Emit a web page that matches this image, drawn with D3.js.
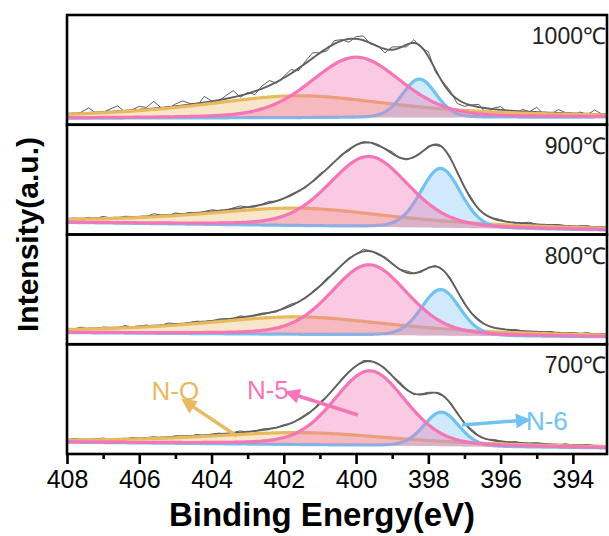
<!DOCTYPE html>
<html>
<head>
<meta charset="utf-8">
<script src="https://cdn.jsdelivr.net/npm/d3@7"></script>
<style>
body { margin: 0; background: #fff; }
svg { display: block; font-family: Arial, "Liberation Sans", sans-serif; }
</style>
</head>
<body>
<div id="chart"></div>
<script>
const width = 609, height = 536;
const plotLeft = 67, plotRight = 607, plotTop = 15, plotBottom = 454;

// panels, top to bottom
const temps = ["1000", "900", "800", "700"];
// background (% of panel height) at 408 eV and at 393 eV
const baseHigh = [6, 11, 10.6, 10.8];
const baseLow = [7, 4, 6.7, 5.5];
// N-Q component
const nqCenter = [401.6, 401.6, 401.6, 401.5];
const nqFwhm = [6.5, 6.5, 6.5, 6.5];
const nqHeight = [20, 16, 16, 11];
// N-5 component
const n5Center = [400.0, 399.65, 399.64, 399.62];
const n5Fwhm = [2.95, 2.6, 2.5, 2.35];
const n5Height = [55, 64, 64, 68];
// N-6 component
const n6Center = [398.25, 397.66, 397.66, 397.64];
const n6Fwhm = [1.1, 1.3, 1.25, 1.15];
const n6Height = [35, 54, 42, 31];

// raw data minus fit, every 0.2 eV from 408 eV
const resid1000 = [0.5,-1,1,4.5,-0.5,0,2.5,5,-1,0.5, 3,1.5,6.5,0,-1.5,2,4,1,-2,5.5,
  0.5,-1,3,6,-1.5,1,-3,2.5,4.5,-1, 1.5,3.5,-2,2,5,0,-2.5,3,1,-3, 2,4,-1,0.5,-3.5,2.5,1,-2,3,-1,
  4.5,-2,1,2,-4,-3,0.5,2.5,-5,1, 3,-1.5,-4,2,0,4.5,-2,-1,3,0.5, -3,1.5,-1,3.5,0,-2];
const resid900 = [0,0.5,-0.5,1,0,1.5,0,-0.5,1,0.5, -1,0,2,0.5,-0.5,1.5,0,1,-1,0.5,
  1.5,0,-0.5,1,2,0,-1,0.5,1.5,-0.5, 0,1,0.5,-1,0.5,1.5,-0.5,0,1,-1.5, 0.5,1,0,-1,0.5,1.5,-0.5,-1,0.5,0,
  1,-1,0.5,1,-0.5,0,1.5,-1,0,0.5, 1,0,-0.5,0.5,1.5,0,-0.5,0.5,1,0, -0.5,0.5,1,0,0.5,0];
const resid800 = [0.5,0,1.5,-0.5,0,1,0.5,-0.5,1.5,0, 0.5,1,-0.5,0,1.5,0.5,-1,0.5,1,0,
  -0.5,1,0.5,0,1.5,-0.5,0.5,1,0,-1, 1,1.5,0,-0.5,1,0.5,1.5,-1,0.5,1, 0,2,0.5,-1,1,0.5,-0.5,1.5,0,-1,
  0.5,1,-0.5,1.5,0,-1,0.5,1,0,-0.5, 0.5,0,1,0,-0.5,0.5,0,1,-0.5,0, 0.5,0,1,0,0.5,0];
const resid700 = [0,1,0,-0.5,0.5,1,0,0.5,-0.5,1, 0,0.5,1,-0.5,0,1,0.5,0,1,-0.5,
  0.5,1,0,0.5,1.5,-0.5,0,1,0.5,0, 1,-0.5,0.5,1,0,1.5,0,-0.5,1,0.5, 0,1.5,0.5,-0.5,1,0,1.5,0.5,-1,0.5,
  1,0,-0.5,1,0.5,0,1.5,0,-0.5,1, 0.5,0,1,-0.5,0,1,0.5,0,-0.5,1, 0,0.5,1,0,0.5,0];
const residuals = [resid1000, resid900, resid800, resid700];

const xTicks = [408, 406, 404, 402, 400, 398, 396, 394];
const xMinor = [407, 405, 403, 401, 399, 397, 395];

const colors = {nq: "#e8b95e", n5: "#f475b8", n6: "#70c3f1"};

const x = d3.scaleLinear().domain([408, 393]).range([plotLeft, 609]);
const ph = (plotBottom - plotTop) / temps.length;

// pseudo-Voigt line shape
function pv(e, c, fwhm, h, eta) {
    const t = (e - c) / (fwhm / 2);
    return h * (eta / (1 + t * t) + (1 - eta) * Math.exp(-Math.LN2 * t * t));
}

const svg = d3.select("#chart").append("svg")
    .attr("width", width)
    .attr("height", height);

const defs = svg.append("defs");
Object.entries(colors).forEach(([k, c]) => {
    defs.append("marker")
        .attr("id", "arrow-" + k)
        .attr("viewBox", "0 0 10 10")
        .attr("refX", 3)
        .attr("refY", 5)
        .attr("markerUnits", "userSpaceOnUse")
        .attr("markerWidth", 16)
        .attr("markerHeight", 15)
        .attr("orient", "auto")
        .append("path")
        .attr("d", "M0,0 L10,5 L0,10 Z")
        .attr("fill", c);
});

const grid = d3.range(0, 301).map(k => 408 - k * 0.05);

temps.forEach((t, i) => {
    const y0 = plotTop + i * ph;
    const y = d3.scaleLinear().domain([0, 100]).range([y0 + ph, y0]);

    defs.append("clipPath").attr("id", "clip" + i)
        .append("rect")
        .attr("x", plotLeft).attr("y", y0)
        .attr("width", plotRight - plotLeft).attr("height", ph);

    const base = e => baseHigh[i] + (baseLow[i] - baseHigh[i]) * (408 - e) / 15;
    const nq = e => pv(e, nqCenter[i], nqFwhm[i], nqHeight[i], 0.8);
    const n5 = e => pv(e, n5Center[i], n5Fwhm[i], n5Height[i], 0.25);
    const n6 = e => pv(e, n6Center[i], n6Fwhm[i], n6Height[i], 0.15);
    const total = e => base(e) + nq(e) + n5(e) + n6(e);

    const g = svg.append("g").attr("clip-path", `url(#clip${i})`);

    // raw spectrum
    const raw = residuals[i].map((r, k) => ({e: 408 - k * 0.2, v: total(408 - k * 0.2) + r}));
    g.append("path")
        .datum(raw)
        .attr("fill", "none")
        .attr("stroke", "#333")
        .attr("stroke-width", 0.8)
        .attr("d", d3.line().x(d => x(d.e)).y(d => y(d.v)));

    // fitted envelope
    g.append("path")
        .datum(grid)
        .attr("fill", "none")
        .attr("stroke", "#606060")
        .attr("stroke-width", 1.9)
        .attr("d", d3.line().x(e => x(e)).y(e => y(total(e))));

    const comps = [
        {f: nq, c: colors.nq, fill: "rgba(236,184,96,0.35)"},
        {f: n6, c: colors.n6, fill: "rgba(120,196,245,0.35)"},
        {f: n5, c: colors.n5, fill: "rgba(242,112,178,0.38)"}
    ];
    comps.forEach(cp => {
        g.append("path")
            .datum(grid)
            .attr("fill", cp.fill)
            .attr("d", d3.area().x(e => x(e)).y0(e => y(base(e))).y1(e => y(base(e) + cp.f(e))));
        g.append("path")
            .datum(grid)
            .attr("fill", "none")
            .attr("stroke", cp.c)
            .attr("stroke-width", 3.2)
            .attr("d", d3.line().x(e => x(e)).y(e => y(base(e) + cp.f(e))));
    });

    svg.append("rect")
        .attr("x", plotLeft).attr("y", y0)
        .attr("width", plotRight - plotLeft).attr("height", ph)
        .attr("fill", "none")
        .attr("stroke", "#000")
        .attr("stroke-width", 2.6);

    svg.append("text")
        .attr("x", 606)
        .attr("y", y0 + 29)
        .attr("text-anchor", "end")
        .attr("font-size", 23)
        .attr("fill", "#222")
        .text(t + "\u2103");

    // peak labels in the bottom panel
    if (i === temps.length - 1) {
        const notes = [
            {k: "nq", label: "N-Q", tx: 405.0, ty: 49, from: [403.3, 16.4], to: [404.6, 45]},
            {k: "n5", label: "N-5", tx: 402.44, ty: 50, from: [399.95, 35.5], to: [401.7, 54]},
            {k: "n6", label: "N-6", tx: 394.72, ty: 22, from: [397.07, 26.4], to: [395.45, 30.5]}
        ];
        notes.forEach(n => {
            svg.append("line")
                .attr("x1", x(n.from[0])).attr("y1", y(n.from[1]))
                .attr("x2", x(n.to[0])).attr("y2", y(n.to[1]))
                .attr("stroke", colors[n.k])
                .attr("stroke-width", 3.5)
                .attr("marker-end", `url(#arrow-${n.k})`);
            svg.append("text")
                .attr("x", x(n.tx))
                .attr("y", y(n.ty))
                .attr("text-anchor", "middle")
                .attr("font-size", 26)
                .attr("fill", colors[n.k])
                .text(n.label);
        });
    }
});

// x axis
const axis = svg.append("g")
    .attr("transform", `translate(0,${plotBottom})`)
    .call(d3.axisBottom(x).tickValues(xTicks).tickFormat(d3.format("d")).tickSize(10).tickPadding(6));
axis.select(".domain").remove();
axis.selectAll(".tick line").attr("stroke", "#000").attr("stroke-width", 2.6);
axis.selectAll(".tick text").attr("font-size", 25).attr("fill", "#000").attr("font-family", "Arial, 'Liberation Sans', sans-serif");

const minor = svg.append("g")
    .attr("transform", `translate(0,${plotBottom})`)
    .call(d3.axisBottom(x).tickValues(xMinor).tickFormat("").tickSize(5));
minor.select(".domain").remove();
minor.selectAll(".tick line").attr("stroke", "#000").attr("stroke-width", 2.6);

svg.append("text")
    .attr("x", 322)
    .attr("y", 526)
    .attr("text-anchor", "middle")
    .attr("font-size", 33)
    .attr("font-weight", "bold")
    .text("Binding Energy(eV)");

svg.append("text")
    .attr("transform", `translate(38,${(plotTop + plotBottom) / 2}) rotate(-90)`)
    .attr("text-anchor", "middle")
    .attr("font-size", 30)
    .attr("font-weight", "bold")
    .text("Intensity(a.u.)");
</script>
</body>
</html>
